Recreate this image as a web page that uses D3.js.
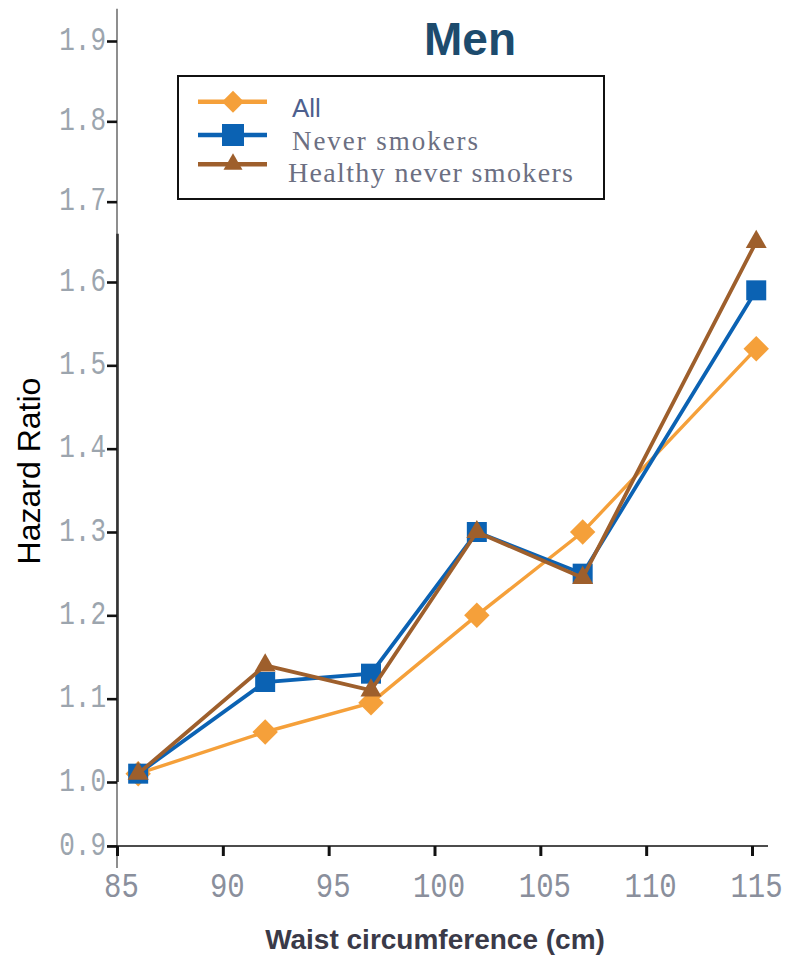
<!DOCTYPE html>
<html>
<head>
<meta charset="utf-8">
<script src="https://cdn.jsdelivr.net/npm/d3@7"></script>
<style>
  html, body { margin: 0; padding: 0; background: #fff; }
  svg { display: block; }
</style>
</head>
<body>
<svg id="chart" width="785" height="956"></svg>
<script>
// ---- data ----
const waist = [86, 92, 97, 102, 107, 115.2];
const allValues = [1.01, 1.06, 1.095, 1.20, 1.30, 1.52];
const neverValues = [1.01, 1.12, 1.13, 1.30, 1.25, 1.59];
const healthyValues = [1.01, 1.14, 1.11, 1.30, 1.245, 1.65];
const seriesNames = ["All", "Never smokers", "Healthy never smokers"];
const xTicks = [85, 90, 95, 100, 105, 110, 115];
const yTicks = [0.9, 1.0, 1.1, 1.2, 1.3, 1.4, 1.5, 1.6, 1.7, 1.8, 1.9];
const titleText = "Men";
const xTitle = "Waist circumference (cm)";
const yTitle = "Hazard Ratio";

// ---- styling ----
const colors = ["#f5a03a", "#0b62b3", "#9e5f2c"];
const shapes = ["diamond", "square", "triangle"];
const widths = [3.4, 3.8, 3.8];

const svg = d3.select("#chart");
svg.append("rect").attr("width", 785).attr("height", 956).attr("fill", "#fff");

const x = d3.scaleLinear().domain([85, 115]).range([117, 752]);
const y = d3.scaleLinear().domain([0.9, 1.0, 1.6, 1.9]).range([846, 782, 282, 41]);

// axis lines
const axisX = x(85);
svg.append("line").attr("x1", axisX).attr("x2", axisX)
  .attr("y1", y(1.94)).attr("y2", y(0.9) + 22)
  .attr("stroke", "#444").attr("stroke-width", 1.2);
svg.append("line").attr("x1", axisX + 0.5).attr("x2", axisX + 0.5)
  .attr("y1", y(1.66)).attr("y2", y(1.0))
  .attr("stroke", "#333").attr("stroke-width", 2.6);
svg.append("line").attr("x1", axisX - 10).attr("x2", 768)
  .attr("y1", y(0.9)).attr("y2", y(0.9))
  .attr("stroke", "#111").attr("stroke-width", 1.6);

// y axis ticks
const yAxis = d3.axisLeft(y).tickValues(yTicks).tickSize(10).tickPadding(0)
  .tickFormat(d3.format(".1f"));
const gy = svg.append("g").attr("transform", `translate(${axisX},0)`).call(yAxis);
gy.select(".domain").remove();
gy.selectAll(".tick line").attr("stroke", "#111").attr("stroke-width", 2.6);
gy.selectAll(".tick text")
  .attr("x", 0).attr("dy", null).attr("y", 0)
  .attr("transform", "translate(-11,8) scale(1,1.25)")
  .attr("text-anchor", "end")
  .attr("font-family", "'Liberation Mono', monospace")
  .attr("font-size", 26)
  .attr("fill", "#9ca5ae");

// x axis ticks
const xAxis = d3.axisBottom(x).tickValues(xTicks).tickSize(10).tickPadding(0)
  .tickFormat(d3.format("d"));
const gx = svg.append("g").attr("transform", `translate(0,${y(0.9)})`).call(xAxis);
gx.select(".domain").remove();
gx.selectAll(".tick line").attr("stroke", "#111").attr("stroke-width", 3);
gx.selectAll(".tick text")
  .attr("y", 0).attr("dy", null)
  .attr("transform", "translate(4,51) scale(1,1.2)")
  .attr("text-anchor", "middle")
  .attr("font-family", "'Liberation Mono', monospace")
  .attr("font-size", 29)
  .attr("fill", "#8a8f9c");

// markers
function markerPath(shape, size) {
  if (shape === "square") return d3.symbol(d3.symbolSquare, size * size)();
  if (shape === "diamond") return d3.symbol(d3.symbolSquare, size * size)();
  return d3.symbol(d3.symbolTriangle, Math.sqrt(3) / 4 * size * size)();
}

const seriesValues = [allValues, neverValues, healthyValues];
const markerSizes = [18, 20, 21];
const line = d3.line().x((d, i) => x(waist[i])).y(d => y(d));

seriesValues.forEach((vals, s) => {
  const g = svg.append("g");
  g.append("path").datum(vals).attr("d", line)
    .attr("fill", "none").attr("stroke", colors[s]).attr("stroke-width", widths[s])
    .attr("stroke-linejoin", "miter");
  g.selectAll("path.m").data(vals).join("path").attr("class", "m")
    .attr("d", markerPath(shapes[s], markerSizes[s]))
    .attr("transform", (d, i) => `translate(${x(waist[i])},${y(d)})` + (shapes[s] === "diamond" ? " rotate(45)" : ""))
    .attr("fill", colors[s]);
});

// title
svg.append("text").attr("x", 470).attr("y", 55).attr("text-anchor", "middle")
  .attr("font-family", "'Liberation Sans', Arial, sans-serif").attr("font-weight", "bold")
  .attr("font-size", 46).attr("fill", "#1d4b6d").text(titleText);

// legend
svg.append("rect").attr("x", 178).attr("y", 76).attr("width", 426).attr("height", 123)
  .attr("fill", "#fff").attr("stroke", "#111").attr("stroke-width", 2);
const legendY = [101.7, 135, 164.3];
const legendMarker = [20, 22, 19];
seriesNames.forEach((name, s) => {
  const ly = legendY[s];
  svg.append("line").attr("x1", 198).attr("x2", 267).attr("y1", ly).attr("y2", ly)
    .attr("stroke", colors[s]).attr("stroke-width", 4.5);
  svg.append("path").attr("d", markerPath(shapes[s], shapes[s] === "diamond" ? 15.5 : legendMarker[s]))
    .attr("transform", `translate(233,${ly})` + (shapes[s] === "diamond" ? " rotate(45)" : ""))
    .attr("fill", colors[s]);
});
svg.append("text").attr("x", 292).attr("y", 116.7)
  .attr("font-family", "'Liberation Sans', Arial, sans-serif").attr("font-size", 26)
  .attr("fill", "#4d5f8e").text(seriesNames[0]);
svg.append("text").attr("x", 292).attr("y", 150)
  .attr("font-family", "'Liberation Serif', 'Times New Roman', serif").attr("font-size", 27)
  .attr("textLength", 186).attr("lengthAdjust", "spacing")
  .attr("fill", "#6c6f82").text(seriesNames[1]);
svg.append("text").attr("x", 288).attr("y", 181.7)
  .attr("font-family", "'Liberation Serif', 'Times New Roman', serif").attr("font-size", 28)
  .attr("textLength", 285).attr("lengthAdjust", "spacing")
  .attr("fill", "#6c6f82").text(seriesNames[2]);

// axis titles
svg.append("text").attr("transform", "translate(40,471) rotate(-90)")
  .attr("text-anchor", "middle")
  .attr("font-family", "'Liberation Sans', Arial, sans-serif").attr("font-size", 32)
  .attr("fill", "#000").text(yTitle);
svg.append("text").attr("x", 435).attr("y", 949).attr("text-anchor", "middle")
  .attr("font-family", "'Liberation Sans', Arial, sans-serif").attr("font-weight", "bold")
  .attr("font-size", 28).attr("fill", "#3a3a48").text(xTitle);
</script>
</body>
</html>
